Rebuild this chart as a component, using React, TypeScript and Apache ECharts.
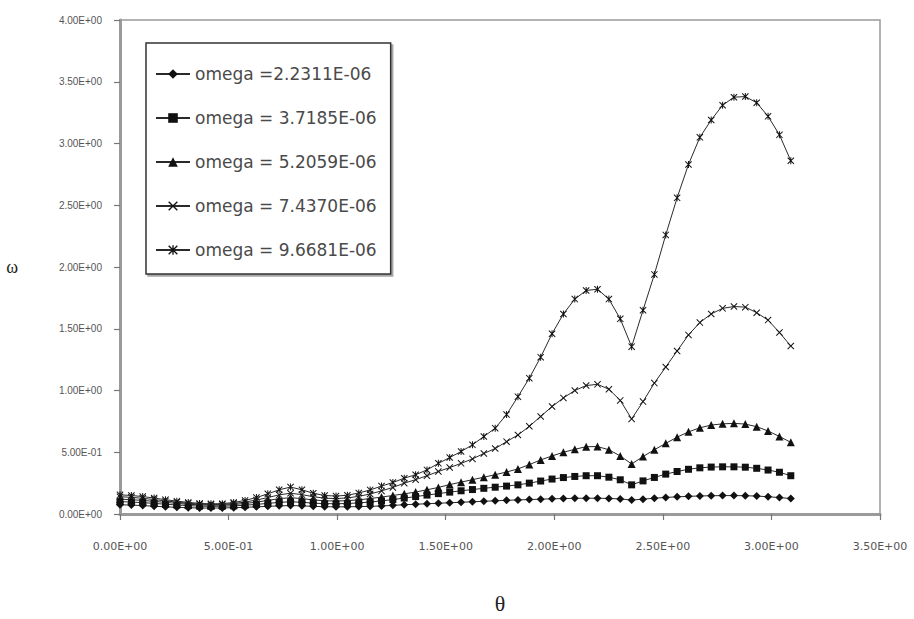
import React, { useEffect, useRef } from "react";
import * as echarts from "echarts";

// theta values (x), radians
const theta = [
  0, 0.0524, 0.1047, 0.1571, 0.2094, 0.2618, 0.3142, 0.3665, 0.4189, 0.4712,
  0.5236, 0.576, 0.6283, 0.6807, 0.733, 0.7854, 0.8378, 0.8901, 0.9425, 0.9948,
  1.0472, 1.0996, 1.1519, 1.2043, 1.2566, 1.309, 1.3614, 1.4137, 1.4661, 1.5184,
  1.5708, 1.6232, 1.6755, 1.7279, 1.7802, 1.8326, 1.885, 1.9373, 1.9897, 2.042,
  2.0944, 2.1468, 2.1991, 2.2515, 2.3038, 2.3562, 2.4086, 2.4609, 2.5133, 2.5656,
  2.618, 2.6704, 2.7227, 2.7751, 2.8274, 2.8798, 2.9322, 2.9845, 3.0369, 3.0892,
];

const omega1 = [
  0.075, 0.072, 0.068, 0.063, 0.058, 0.054, 0.051, 0.049, 0.048, 0.049,
  0.051, 0.054, 0.058, 0.062, 0.066, 0.068, 0.066, 0.062, 0.059, 0.058,
  0.058, 0.06, 0.062, 0.065, 0.07, 0.075, 0.079, 0.083, 0.087, 0.091,
  0.095, 0.099, 0.103, 0.107, 0.111, 0.114, 0.117, 0.12, 0.123, 0.125,
  0.127, 0.128, 0.128, 0.126, 0.122, 0.113, 0.12, 0.128, 0.134, 0.139,
  0.143, 0.146, 0.148, 0.149, 0.149, 0.148, 0.145, 0.14, 0.133, 0.125,
];

const omega2 = [
  0.1, 0.097, 0.092, 0.086, 0.079, 0.073, 0.068, 0.064, 0.062, 0.063,
  0.066, 0.071, 0.078, 0.086, 0.094, 0.099, 0.095, 0.088, 0.084, 0.083,
  0.085, 0.09, 0.097, 0.106, 0.117, 0.129, 0.141, 0.153, 0.165, 0.177,
  0.188, 0.198, 0.208, 0.217, 0.226, 0.236, 0.25, 0.267, 0.283, 0.295,
  0.304, 0.31, 0.31, 0.298, 0.277, 0.236, 0.268, 0.296, 0.323, 0.344,
  0.362, 0.374, 0.38, 0.382, 0.382, 0.379, 0.37, 0.356, 0.338, 0.31,
];

const omega3 = [
  0.12, 0.116, 0.11, 0.102, 0.094, 0.086, 0.079, 0.074, 0.071, 0.072,
  0.077, 0.085, 0.096, 0.11, 0.124, 0.132, 0.125, 0.114, 0.107, 0.105,
  0.108, 0.115, 0.125, 0.137, 0.15, 0.163, 0.178, 0.196, 0.215, 0.238,
  0.258, 0.278, 0.298, 0.318, 0.34, 0.365, 0.4, 0.438, 0.47, 0.5,
  0.524, 0.545, 0.546, 0.52, 0.47, 0.405, 0.465, 0.52, 0.572, 0.622,
  0.665, 0.698, 0.72, 0.73, 0.734, 0.728, 0.707, 0.672, 0.628, 0.58,
];

const omega4 = [
  0.14, 0.135, 0.127, 0.117, 0.106, 0.096, 0.087, 0.08, 0.077, 0.078,
  0.085, 0.097, 0.113, 0.133, 0.155, 0.168, 0.157, 0.14, 0.128, 0.125,
  0.13, 0.143, 0.162, 0.187, 0.215, 0.25, 0.278, 0.31, 0.344, 0.376,
  0.41, 0.446, 0.49, 0.53, 0.586, 0.64, 0.71, 0.79, 0.87, 0.94,
  1.0, 1.04, 1.05, 1.01, 0.92, 0.77, 0.91, 1.06, 1.19, 1.32,
  1.45, 1.55, 1.62, 1.665, 1.68, 1.675, 1.63, 1.57, 1.47, 1.36,
];

const omega5 = [
  0.155, 0.15, 0.141, 0.129, 0.116, 0.104, 0.094, 0.086, 0.082, 0.084,
  0.093, 0.11, 0.133, 0.163, 0.196, 0.218, 0.196, 0.168, 0.15, 0.145,
  0.152, 0.17, 0.195, 0.226, 0.255, 0.29, 0.318, 0.357, 0.41, 0.457,
  0.506, 0.56, 0.627, 0.695, 0.805, 0.95, 1.1, 1.27, 1.46, 1.62,
  1.74, 1.81, 1.82, 1.74, 1.58, 1.355, 1.65, 1.94, 2.26, 2.56,
  2.83, 3.05, 3.19, 3.31, 3.375, 3.38, 3.33, 3.22, 3.07, 2.86,
];

const seriesNames = [
  "omega =2.2311E-06",
  "omega = 3.7185E-06",
  "omega = 5.2059E-06",
  "omega = 7.4370E-06",
  "omega = 9.6681E-06",
];

const xTickLabels = [
  "0.00E+00", "5.00E-01", "1.00E+00", "1.50E+00",
  "2.00E+00", "2.50E+00", "3.00E+00", "3.50E+00",
];
const yTickLabels = [
  "0.00E+00", "5.00E-01", "1.00E+00", "1.50E+00", "2.00E+00",
  "2.50E+00", "3.00E+00", "3.50E+00", "4.00E+00",
];

const SYM_X = "path://M0,1L1,0L10,9L9,10Z M9,0L10,1L1,10L0,9Z";
const SYM_STAR = "path://M0,1L1,0L10,9L9,10Z M9,0L10,1L1,10L0,9Z M4.3,0L5.7,0L5.7,10L4.3,10Z";

const symbols = ["diamond", "rect", "triangle", SYM_X, SYM_STAR];
const symbolSizes = [8, 7, 8, 7, 7];

export default function App() {
  const ref = useRef<HTMLDivElement>(null);

  useEffect(() => {
    if (!ref.current) return;
    const chart = echarts.init(ref.current, undefined, { renderer: "svg" });
    const allValues = [omega1, omega2, omega3, omega4, omega5];
    const axisGray = "#9a9a9a";

    chart.setOption({
      animation: false,
      backgroundColor: "#ffffff",
      grid: {
        left: 120,
        right: 34,
        top: 20,
        bottom: 103,
        show: true,
        borderColor: axisGray,
        borderWidth: 1.5,
        backgroundColor: "transparent",
      },
      legend: {
        orient: "vertical",
        left: 146,
        top: 43,
        padding: [21, 14, 14, 9],
        itemGap: 24,
        itemWidth: 34,
        itemHeight: 12,
        backgroundColor: "#ffffff",
        borderColor: "#333333",
        borderWidth: 1.5,
        shadowColor: "rgba(0,0,0,0.35)",
        shadowOffsetX: 2,
        shadowOffsetY: 2,
        shadowBlur: 1,
        textStyle: {
          fontFamily: "DejaVu Sans",
          fontSize: 17,
          color: "#4a4a4a",
          lineHeight: 20,
        },
        data: seriesNames,
      },
      xAxis: {
        type: "value",
        min: 0,
        max: 3.5,
        interval: 0.5,
        name: "θ",
        nameLocation: "middle",
        nameGap: 78,
        nameTextStyle: {
          fontFamily: "Liberation Serif, DejaVu Serif, serif",
          fontSize: 22,
          color: "#222222",
        },
        axisLine: { show: true, lineStyle: { color: axisGray, width: 3 } },
        axisTick: { show: true, length: 6, lineStyle: { color: "#777777", width: 1.2 } },
        splitLine: { show: false },
        axisLabel: {
          margin: 27,
          fontFamily: "DejaVu Sans",
          fontSize: 11,
          color: "#555555",
          formatter: (v: number) => xTickLabels[Math.round(v / 0.5)] ?? "",
        },
      },
      yAxis: {
        type: "value",
        min: 0,
        max: 4,
        interval: 0.5,
        name: "ω",
        nameLocation: "middle",
        nameRotate: 0,
        nameGap: 102,
        nameTextStyle: {
          fontFamily: "Liberation Serif, DejaVu Serif, serif",
          fontSize: 18,
          color: "#222222",
        },
        axisLine: { show: true, lineStyle: { color: axisGray, width: 3 } },
        axisTick: { show: true, length: 6, lineStyle: { color: "#777777", width: 1.2 } },
        splitLine: { show: false },
        axisLabel: {
          margin: 18,
          fontFamily: "'Liberation Sans Narrow', 'Arial Narrow', 'Liberation Sans', Arial",
          fontSize: 10,
          color: "#555555",
          formatter: (v: number) => yTickLabels[Math.round(v / 0.5)] ?? "",
        },
      },
      series: seriesNames.map((name, i) => ({
        type: "line",
        name,
        data: theta.map((t, k) => [t, allValues[i][k]]),
        symbol: symbols[i],
        symbolSize: symbolSizes[i],
        showAllSymbol: true,
        lineStyle: { color: "#2a2a2a", width: 1 },
        itemStyle: { color: "#111111" },
        emphasis: { disabled: true },
        z: 2 + i,
      })),
    });

    return () => chart.dispose();
  }, []);

  return (
    <div
      ref={ref}
      style={{ position: "fixed", left: 0, top: 0, width: 914, height: 619 }}
    />
  );
}
